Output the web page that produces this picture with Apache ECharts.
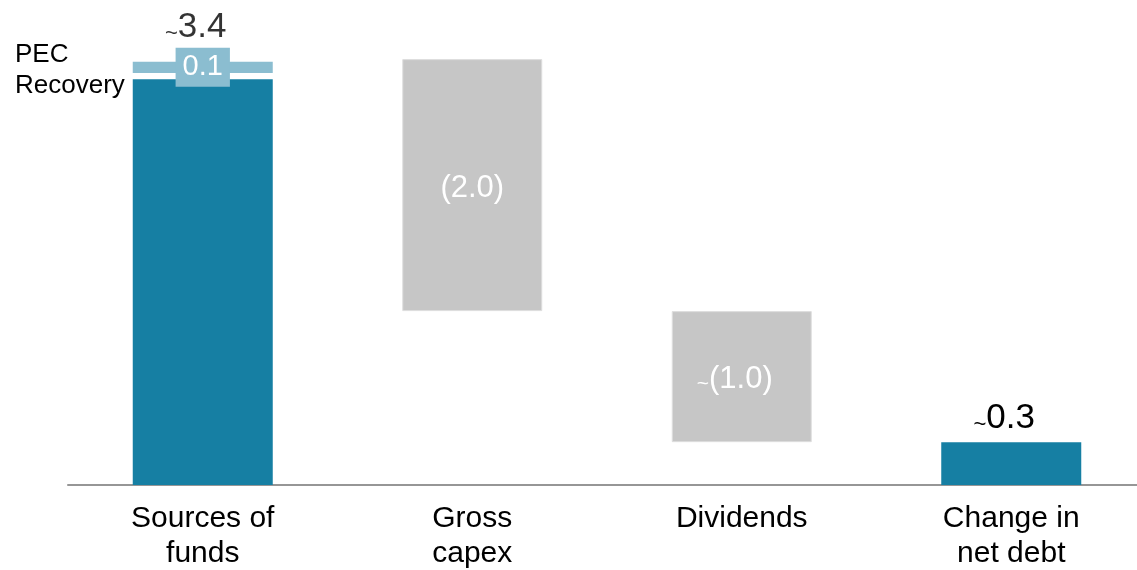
<!DOCTYPE html>
<html>
<head>
<meta charset="utf-8">
<title>Sources and uses of funds</title>
<script src="https://cdn.jsdelivr.net/npm/echarts@6/dist/echarts.min.js"></script>
<style>
  html, body { margin: 0; padding: 0; background: #fff; }
  #chart { width: 1137px; height: 570px; }
</style>
</head>
<body>
<div id="chart"></div>
<script>
// Waterfall: sources of funds vs. uses (capex, dividends) and resulting change in net debt
const categories = ['Sources of\nfunds', 'Gross\ncapex', 'Dividends', 'Change in\nnet debt'];
const barStarts  = [0, 1.38, 0.34, 0];        // floating offset of each bar
const barValues  = [3.22, 2.0, 1.04, 0.34];   // height of each main bar
const isOutflow  = [false, true, true, false];
const isApprox   = [true, false, true, true];
const pecGap     = 0.05;                      // white separator under PEC recovery
const pecValue   = 0.09;                      // PEC recovery on top of sources

const TEAL = '#167fa3';
const LIGHT = '#8bbdd0';
const GREY = '#c6c6c6';
const FONT = 'Liberation Sans, Arial, sans-serif';
const TILDE_SHIFT = -7;   // keeps the number centred with the "~" hanging left

const sourcesTotal = barValues[0] + pecGap + pecValue;

function tilde(flag) { return flag ? '{t|~}' : ''; }

// small "~" sits a little below the middle of the figures
const tildeDark  = { fontSize: 22, color: '#000', fontFamily: FONT, padding: [14, 0, 0, 0] };
const tildeLight = { fontSize: 21, color: '#fff', fontFamily: FONT, padding: [9, 0, 0, 0] };

const mainData = barValues.map((v, i) => {
  const item = {
    value: v,
    itemStyle: isOutflow[i]
      ? { color: GREY, borderColor: '#dedede', borderWidth: 1 }
      : { color: TEAL }
  };
  if (isOutflow[i]) {
    item.label = {
      show: true,
      position: 'inside',
      offset: [isApprox[i] ? TILDE_SHIFT : 0, 3],
      formatter: tilde(isApprox[i]) + '{w|(' + v.toFixed(1) + ')}',
      rich: {
        t: tildeLight,
        w: { fontSize: 31, color: '#fff', fontFamily: FONT }
      }
    };
  } else if (i === barValues.length - 1) {
    item.label = {
      show: true,
      position: 'top',
      distance: 6,
      offset: [isApprox[i] ? TILDE_SHIFT : 0, 0],
      formatter: tilde(isApprox[i]) + '{v|' + v.toFixed(1) + '}',
      rich: {
        t: tildeDark,
        v: { fontSize: 35, color: '#000', fontFamily: FONT }
      }
    };
  }
  return item;
});

const chart = echarts.init(document.getElementById('chart'), null, { renderer: 'canvas' });

chart.setOption({
  animation: false,
  backgroundColor: '#fff',
  grid: { left: 68, right: -9, top: 6.2, bottom: 85, containLabel: false, outerBoundsMode: 'none' },
  xAxis: {
    type: 'category',
    data: categories,
    axisLine: { show: true, lineStyle: { color: '#969696', width: 2 } },
    axisTick: { show: false },
    axisLabel: {
      interval: 0,
      margin: 16,
      color: '#000',
      fontSize: 30,
      lineHeight: 35,
      fontFamily: FONT
    }
  },
  yAxis: {
    type: 'value',
    min: 0,
    max: 3.8,
    show: false,
    splitLine: { show: false }
  },
  series: [
    {
      name: 'offset',
      type: 'bar',
      stack: 'w',
      barWidth: 140,
      silent: true,
      itemStyle: { color: 'transparent' },
      data: barStarts
    },
    {
      name: 'flow',
      type: 'bar',
      stack: 'w',
      barWidth: 140,
      data: mainData
    },
    {
      name: 'gap',
      type: 'bar',
      stack: 'w',
      barWidth: 140,
      silent: true,
      itemStyle: { color: 'transparent' },
      data: [pecGap, '-', '-', '-']
    },
    {
      name: 'PEC Recovery',
      type: 'bar',
      stack: 'w',
      barWidth: 140,
      itemStyle: { color: LIGHT },
      label: {
        show: true,
        position: 'inside',
        formatter: p => p.value.toFixed(1),
        color: '#fff',
        fontSize: 29,
        fontFamily: FONT,
        backgroundColor: LIGHT,
        padding: [6, 7, 4, 7]
      },
      data: [pecValue, '-', '-', '-']
    },
    {
      name: 'total',
      type: 'scatter',
      symbolSize: 1,
      silent: true,
      itemStyle: { color: 'rgba(0,0,0,0)' },
      label: {
        show: true,
        position: 'top',
        distance: 16,
        offset: [TILDE_SHIFT, 0],
        formatter: p => tilde(true) + '{v|' + p.value[1].toFixed(1) + '}',
        rich: {
          t: tildeDark,
          v: { fontSize: 35, color: '#000', fontFamily: FONT }
        }
      },
      data: [[0, sourcesTotal]]
    }
  ],
  graphic: [
    {
      type: 'text',
      left: 15,
      top: 39,
      style: {
        text: 'PEC\nRecovery',
        font: '26px ' + FONT,
        lineHeight: 31,
        fill: '#000'
      }
    }
  ]
});
</script>
</body>
</html>
